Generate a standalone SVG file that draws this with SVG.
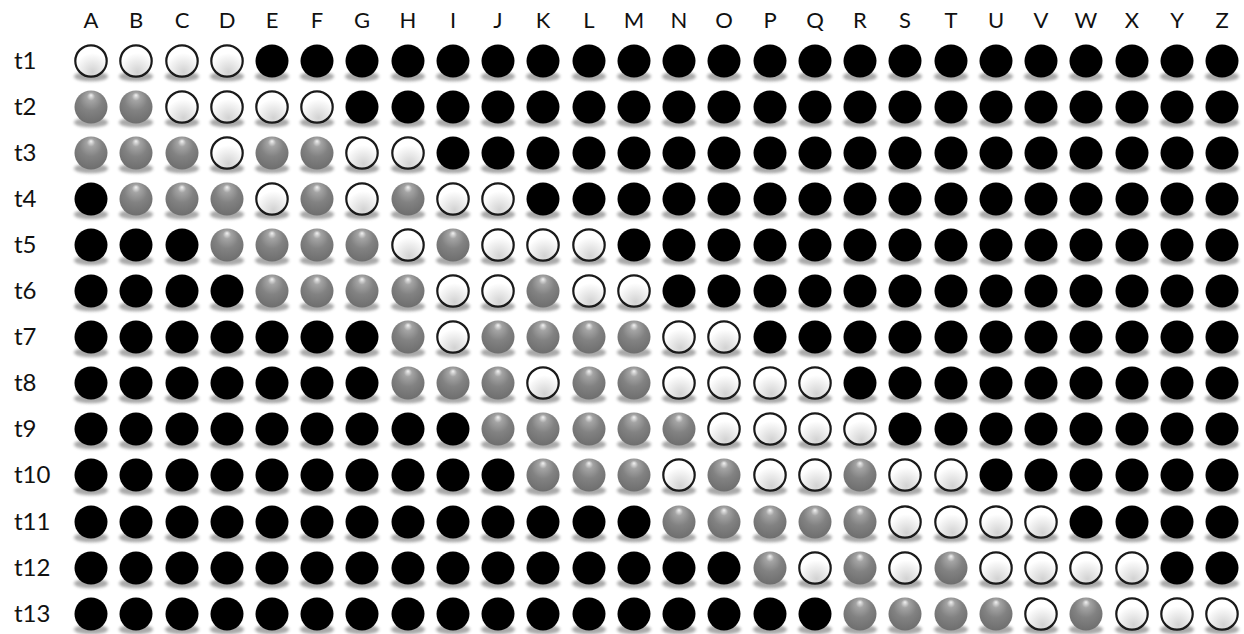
<svg xmlns="http://www.w3.org/2000/svg" xmlns:xlink="http://www.w3.org/1999/xlink" width="1244" height="634" viewBox="0 0 1244 634">
<style>
.col{font-family:Lato,"Open Sans","Liberation Sans",sans-serif;font-size:22px;fill:#111;text-anchor:middle}
.row{font-family:Lato,"Open Sans","Liberation Sans",sans-serif;font-size:24px;fill:#111}
.sh{fill:#8c8c8c;opacity:.75;filter:url(#blur)}
</style>
<defs>
<filter id="blur" x="-50%" y="-100%" width="200%" height="300%"><feGaussianBlur stdDeviation="1.5"/></filter>
<radialGradient id="gG" cx="50%" cy="38%" r="62%" fx="50%" fy="14%">
<stop offset="0" stop-color="#f2f2f2"/>
<stop offset="0.2" stop-color="#a4a4a4"/>
<stop offset="0.55" stop-color="#828282"/>
<stop offset="1" stop-color="#6e6e6e"/>
</radialGradient>
<radialGradient id="gW" cx="55%" cy="85%" r="60%">
<stop offset="0" stop-color="#d2d2d2"/>
<stop offset="1" stop-color="#ffffff"/>
</radialGradient>
<g id="B"><ellipse class="sh" cx="0" cy="15.5" rx="17" ry="4.8"/><circle r="16.5" fill="#000"/></g>
<g id="G"><ellipse class="sh" cx="0" cy="15.5" rx="17" ry="4.8"/><circle r="16.5" fill="url(#gG)"/></g>
<g id="W"><ellipse class="sh" cx="0" cy="15.5" rx="17" ry="4.8"/><circle r="15.7" fill="url(#gW)" stroke="#1a1a1a" stroke-width="2.2"/></g>
</defs>
<g id="column-labels">
<text class="col" x="91" y="28">A</text><text class="col" x="136" y="28">B</text><text class="col" x="182" y="28">C</text><text class="col" x="227" y="28">D</text><text class="col" x="272" y="28">E</text><text class="col" x="317" y="28">F</text><text class="col" x="362" y="28">G</text><text class="col" x="408" y="28">H</text><text class="col" x="453" y="28">I</text><text class="col" x="498" y="28">J</text><text class="col" x="543" y="28">K</text><text class="col" x="589" y="28">L</text><text class="col" x="634" y="28">M</text><text class="col" x="679" y="28">N</text><text class="col" x="724" y="28">O</text><text class="col" x="770" y="28">P</text><text class="col" x="815" y="28">Q</text><text class="col" x="860" y="28">R</text><text class="col" x="905" y="28">S</text><text class="col" x="951" y="28">T</text><text class="col" x="996" y="28">U</text><text class="col" x="1041" y="28">V</text><text class="col" x="1086" y="28">W</text><text class="col" x="1132" y="28">X</text><text class="col" x="1177" y="28">Y</text><text class="col" x="1222" y="28">Z</text>
</g>
<g id="row-labels">
<text class="row" x="14" y="69">t1</text><text class="row" x="14" y="115">t2</text><text class="row" x="14" y="161">t3</text><text class="row" x="14" y="207">t4</text><text class="row" x="14" y="253">t5</text><text class="row" x="14" y="299">t6</text><text class="row" x="14" y="345">t7</text><text class="row" x="14" y="391">t8</text><text class="row" x="14" y="437">t9</text><text class="row" x="14" y="483">t10</text><text class="row" x="14" y="530">t11</text><text class="row" x="14" y="576">t12</text><text class="row" x="14" y="622">t13</text>
</g>
<g id="connectors"></g>
<g id="row-t1" transform="translate(0,61)">
<g id="t1-A"><use href="#W" x="91"/></g><g id="t1-B"><use href="#W" x="136"/></g><g id="t1-C"><use href="#W" x="182"/></g><g id="t1-D"><use href="#W" x="227"/></g><g id="t1-E"><use href="#B" x="272"/></g><g id="t1-F"><use href="#B" x="317"/></g><g id="t1-G"><use href="#B" x="362"/></g><g id="t1-H"><use href="#B" x="408"/></g><g id="t1-I"><use href="#B" x="453"/></g><g id="t1-J"><use href="#B" x="498"/></g><g id="t1-K"><use href="#B" x="543"/></g><g id="t1-L"><use href="#B" x="589"/></g><g id="t1-M"><use href="#B" x="634"/></g><g id="t1-N"><use href="#B" x="679"/></g><g id="t1-O"><use href="#B" x="724"/></g><g id="t1-P"><use href="#B" x="770"/></g><g id="t1-Q"><use href="#B" x="815"/></g><g id="t1-R"><use href="#B" x="860"/></g><g id="t1-S"><use href="#B" x="905"/></g><g id="t1-T"><use href="#B" x="951"/></g><g id="t1-U"><use href="#B" x="996"/></g><g id="t1-V"><use href="#B" x="1041"/></g><g id="t1-W"><use href="#B" x="1086"/></g><g id="t1-X"><use href="#B" x="1132"/></g><g id="t1-Y"><use href="#B" x="1177"/></g><g id="t1-Z"><use href="#B" x="1222"/></g>
</g>
<g id="row-t2" transform="translate(0,107)">
<g id="t2-A"><use href="#G" x="91"/></g><g id="t2-B"><use href="#G" x="136"/></g><g id="t2-C"><use href="#W" x="182"/></g><g id="t2-D"><use href="#W" x="227"/></g><g id="t2-E"><use href="#W" x="272"/></g><g id="t2-F"><use href="#W" x="317"/></g><g id="t2-G"><use href="#B" x="362"/></g><g id="t2-H"><use href="#B" x="408"/></g><g id="t2-I"><use href="#B" x="453"/></g><g id="t2-J"><use href="#B" x="498"/></g><g id="t2-K"><use href="#B" x="543"/></g><g id="t2-L"><use href="#B" x="589"/></g><g id="t2-M"><use href="#B" x="634"/></g><g id="t2-N"><use href="#B" x="679"/></g><g id="t2-O"><use href="#B" x="724"/></g><g id="t2-P"><use href="#B" x="770"/></g><g id="t2-Q"><use href="#B" x="815"/></g><g id="t2-R"><use href="#B" x="860"/></g><g id="t2-S"><use href="#B" x="905"/></g><g id="t2-T"><use href="#B" x="951"/></g><g id="t2-U"><use href="#B" x="996"/></g><g id="t2-V"><use href="#B" x="1041"/></g><g id="t2-W"><use href="#B" x="1086"/></g><g id="t2-X"><use href="#B" x="1132"/></g><g id="t2-Y"><use href="#B" x="1177"/></g><g id="t2-Z"><use href="#B" x="1222"/></g>
</g>
<g id="row-t3" transform="translate(0,153)">
<g id="t3-A"><use href="#G" x="91"/></g><g id="t3-B"><use href="#G" x="136"/></g><g id="t3-C"><use href="#G" x="182"/></g><g id="t3-D"><use href="#W" x="227"/></g><g id="t3-E"><use href="#G" x="272"/></g><g id="t3-F"><use href="#G" x="317"/></g><g id="t3-G"><use href="#W" x="362"/></g><g id="t3-H"><use href="#W" x="408"/></g><g id="t3-I"><use href="#B" x="453"/></g><g id="t3-J"><use href="#B" x="498"/></g><g id="t3-K"><use href="#B" x="543"/></g><g id="t3-L"><use href="#B" x="589"/></g><g id="t3-M"><use href="#B" x="634"/></g><g id="t3-N"><use href="#B" x="679"/></g><g id="t3-O"><use href="#B" x="724"/></g><g id="t3-P"><use href="#B" x="770"/></g><g id="t3-Q"><use href="#B" x="815"/></g><g id="t3-R"><use href="#B" x="860"/></g><g id="t3-S"><use href="#B" x="905"/></g><g id="t3-T"><use href="#B" x="951"/></g><g id="t3-U"><use href="#B" x="996"/></g><g id="t3-V"><use href="#B" x="1041"/></g><g id="t3-W"><use href="#B" x="1086"/></g><g id="t3-X"><use href="#B" x="1132"/></g><g id="t3-Y"><use href="#B" x="1177"/></g><g id="t3-Z"><use href="#B" x="1222"/></g>
</g>
<g id="row-t4" transform="translate(0,199)">
<g id="t4-A"><use href="#B" x="91"/></g><g id="t4-B"><use href="#G" x="136"/></g><g id="t4-C"><use href="#G" x="182"/></g><g id="t4-D"><use href="#G" x="227"/></g><g id="t4-E"><use href="#W" x="272"/></g><g id="t4-F"><use href="#G" x="317"/></g><g id="t4-G"><use href="#W" x="362"/></g><g id="t4-H"><use href="#G" x="408"/></g><g id="t4-I"><use href="#W" x="453"/></g><g id="t4-J"><use href="#W" x="498"/></g><g id="t4-K"><use href="#B" x="543"/></g><g id="t4-L"><use href="#B" x="589"/></g><g id="t4-M"><use href="#B" x="634"/></g><g id="t4-N"><use href="#B" x="679"/></g><g id="t4-O"><use href="#B" x="724"/></g><g id="t4-P"><use href="#B" x="770"/></g><g id="t4-Q"><use href="#B" x="815"/></g><g id="t4-R"><use href="#B" x="860"/></g><g id="t4-S"><use href="#B" x="905"/></g><g id="t4-T"><use href="#B" x="951"/></g><g id="t4-U"><use href="#B" x="996"/></g><g id="t4-V"><use href="#B" x="1041"/></g><g id="t4-W"><use href="#B" x="1086"/></g><g id="t4-X"><use href="#B" x="1132"/></g><g id="t4-Y"><use href="#B" x="1177"/></g><g id="t4-Z"><use href="#B" x="1222"/></g>
</g>
<g id="row-t5" transform="translate(0,245)">
<g id="t5-A"><use href="#B" x="91"/></g><g id="t5-B"><use href="#B" x="136"/></g><g id="t5-C"><use href="#B" x="182"/></g><g id="t5-D"><use href="#G" x="227"/></g><g id="t5-E"><use href="#G" x="272"/></g><g id="t5-F"><use href="#G" x="317"/></g><g id="t5-G"><use href="#G" x="362"/></g><g id="t5-H"><use href="#W" x="408"/></g><g id="t5-I"><use href="#G" x="453"/></g><g id="t5-J"><use href="#W" x="498"/></g><g id="t5-K"><use href="#W" x="543"/></g><g id="t5-L"><use href="#W" x="589"/></g><g id="t5-M"><use href="#B" x="634"/></g><g id="t5-N"><use href="#B" x="679"/></g><g id="t5-O"><use href="#B" x="724"/></g><g id="t5-P"><use href="#B" x="770"/></g><g id="t5-Q"><use href="#B" x="815"/></g><g id="t5-R"><use href="#B" x="860"/></g><g id="t5-S"><use href="#B" x="905"/></g><g id="t5-T"><use href="#B" x="951"/></g><g id="t5-U"><use href="#B" x="996"/></g><g id="t5-V"><use href="#B" x="1041"/></g><g id="t5-W"><use href="#B" x="1086"/></g><g id="t5-X"><use href="#B" x="1132"/></g><g id="t5-Y"><use href="#B" x="1177"/></g><g id="t5-Z"><use href="#B" x="1222"/></g>
</g>
<g id="row-t6" transform="translate(0,291)">
<g id="t6-A"><use href="#B" x="91"/></g><g id="t6-B"><use href="#B" x="136"/></g><g id="t6-C"><use href="#B" x="182"/></g><g id="t6-D"><use href="#B" x="227"/></g><g id="t6-E"><use href="#G" x="272"/></g><g id="t6-F"><use href="#G" x="317"/></g><g id="t6-G"><use href="#G" x="362"/></g><g id="t6-H"><use href="#G" x="408"/></g><g id="t6-I"><use href="#W" x="453"/></g><g id="t6-J"><use href="#W" x="498"/></g><g id="t6-K"><use href="#G" x="543"/></g><g id="t6-L"><use href="#W" x="589"/></g><g id="t6-M"><use href="#W" x="634"/></g><g id="t6-N"><use href="#B" x="679"/></g><g id="t6-O"><use href="#B" x="724"/></g><g id="t6-P"><use href="#B" x="770"/></g><g id="t6-Q"><use href="#B" x="815"/></g><g id="t6-R"><use href="#B" x="860"/></g><g id="t6-S"><use href="#B" x="905"/></g><g id="t6-T"><use href="#B" x="951"/></g><g id="t6-U"><use href="#B" x="996"/></g><g id="t6-V"><use href="#B" x="1041"/></g><g id="t6-W"><use href="#B" x="1086"/></g><g id="t6-X"><use href="#B" x="1132"/></g><g id="t6-Y"><use href="#B" x="1177"/></g><g id="t6-Z"><use href="#B" x="1222"/></g>
</g>
<g id="row-t7" transform="translate(0,337)">
<g id="t7-A"><use href="#B" x="91"/></g><g id="t7-B"><use href="#B" x="136"/></g><g id="t7-C"><use href="#B" x="182"/></g><g id="t7-D"><use href="#B" x="227"/></g><g id="t7-E"><use href="#B" x="272"/></g><g id="t7-F"><use href="#B" x="317"/></g><g id="t7-G"><use href="#B" x="362"/></g><g id="t7-H"><use href="#G" x="408"/></g><g id="t7-I"><use href="#W" x="453"/></g><g id="t7-J"><use href="#G" x="498"/></g><g id="t7-K"><use href="#G" x="543"/></g><g id="t7-L"><use href="#G" x="589"/></g><g id="t7-M"><use href="#G" x="634"/></g><g id="t7-N"><use href="#W" x="679"/></g><g id="t7-O"><use href="#W" x="724"/></g><g id="t7-P"><use href="#B" x="770"/></g><g id="t7-Q"><use href="#B" x="815"/></g><g id="t7-R"><use href="#B" x="860"/></g><g id="t7-S"><use href="#B" x="905"/></g><g id="t7-T"><use href="#B" x="951"/></g><g id="t7-U"><use href="#B" x="996"/></g><g id="t7-V"><use href="#B" x="1041"/></g><g id="t7-W"><use href="#B" x="1086"/></g><g id="t7-X"><use href="#B" x="1132"/></g><g id="t7-Y"><use href="#B" x="1177"/></g><g id="t7-Z"><use href="#B" x="1222"/></g>
</g>
<g id="row-t8" transform="translate(0,383)">
<g id="t8-A"><use href="#B" x="91"/></g><g id="t8-B"><use href="#B" x="136"/></g><g id="t8-C"><use href="#B" x="182"/></g><g id="t8-D"><use href="#B" x="227"/></g><g id="t8-E"><use href="#B" x="272"/></g><g id="t8-F"><use href="#B" x="317"/></g><g id="t8-G"><use href="#B" x="362"/></g><g id="t8-H"><use href="#G" x="408"/></g><g id="t8-I"><use href="#G" x="453"/></g><g id="t8-J"><use href="#G" x="498"/></g><g id="t8-K"><use href="#W" x="543"/></g><g id="t8-L"><use href="#G" x="589"/></g><g id="t8-M"><use href="#G" x="634"/></g><g id="t8-N"><use href="#W" x="679"/></g><g id="t8-O"><use href="#W" x="724"/></g><g id="t8-P"><use href="#W" x="770"/></g><g id="t8-Q"><use href="#W" x="815"/></g><g id="t8-R"><use href="#B" x="860"/></g><g id="t8-S"><use href="#B" x="905"/></g><g id="t8-T"><use href="#B" x="951"/></g><g id="t8-U"><use href="#B" x="996"/></g><g id="t8-V"><use href="#B" x="1041"/></g><g id="t8-W"><use href="#B" x="1086"/></g><g id="t8-X"><use href="#B" x="1132"/></g><g id="t8-Y"><use href="#B" x="1177"/></g><g id="t8-Z"><use href="#B" x="1222"/></g>
</g>
<g id="row-t9" transform="translate(0,429)">
<g id="t9-A"><use href="#B" x="91"/></g><g id="t9-B"><use href="#B" x="136"/></g><g id="t9-C"><use href="#B" x="182"/></g><g id="t9-D"><use href="#B" x="227"/></g><g id="t9-E"><use href="#B" x="272"/></g><g id="t9-F"><use href="#B" x="317"/></g><g id="t9-G"><use href="#B" x="362"/></g><g id="t9-H"><use href="#B" x="408"/></g><g id="t9-I"><use href="#B" x="453"/></g><g id="t9-J"><use href="#G" x="498"/></g><g id="t9-K"><use href="#G" x="543"/></g><g id="t9-L"><use href="#G" x="589"/></g><g id="t9-M"><use href="#G" x="634"/></g><g id="t9-N"><use href="#G" x="679"/></g><g id="t9-O"><use href="#W" x="724"/></g><g id="t9-P"><use href="#W" x="770"/></g><g id="t9-Q"><use href="#W" x="815"/></g><g id="t9-R"><use href="#W" x="860"/></g><g id="t9-S"><use href="#B" x="905"/></g><g id="t9-T"><use href="#B" x="951"/></g><g id="t9-U"><use href="#B" x="996"/></g><g id="t9-V"><use href="#B" x="1041"/></g><g id="t9-W"><use href="#B" x="1086"/></g><g id="t9-X"><use href="#B" x="1132"/></g><g id="t9-Y"><use href="#B" x="1177"/></g><g id="t9-Z"><use href="#B" x="1222"/></g>
</g>
<g id="row-t10" transform="translate(0,475)">
<g id="t10-A"><use href="#B" x="91"/></g><g id="t10-B"><use href="#B" x="136"/></g><g id="t10-C"><use href="#B" x="182"/></g><g id="t10-D"><use href="#B" x="227"/></g><g id="t10-E"><use href="#B" x="272"/></g><g id="t10-F"><use href="#B" x="317"/></g><g id="t10-G"><use href="#B" x="362"/></g><g id="t10-H"><use href="#B" x="408"/></g><g id="t10-I"><use href="#B" x="453"/></g><g id="t10-J"><use href="#B" x="498"/></g><g id="t10-K"><use href="#G" x="543"/></g><g id="t10-L"><use href="#G" x="589"/></g><g id="t10-M"><use href="#G" x="634"/></g><g id="t10-N"><use href="#W" x="679"/></g><g id="t10-O"><use href="#G" x="724"/></g><g id="t10-P"><use href="#W" x="770"/></g><g id="t10-Q"><use href="#W" x="815"/></g><g id="t10-R"><use href="#G" x="860"/></g><g id="t10-S"><use href="#W" x="905"/></g><g id="t10-T"><use href="#W" x="951"/></g><g id="t10-U"><use href="#B" x="996"/></g><g id="t10-V"><use href="#B" x="1041"/></g><g id="t10-W"><use href="#B" x="1086"/></g><g id="t10-X"><use href="#B" x="1132"/></g><g id="t10-Y"><use href="#B" x="1177"/></g><g id="t10-Z"><use href="#B" x="1222"/></g>
</g>
<g id="row-t11" transform="translate(0,522)">
<g id="t11-A"><use href="#B" x="91"/></g><g id="t11-B"><use href="#B" x="136"/></g><g id="t11-C"><use href="#B" x="182"/></g><g id="t11-D"><use href="#B" x="227"/></g><g id="t11-E"><use href="#B" x="272"/></g><g id="t11-F"><use href="#B" x="317"/></g><g id="t11-G"><use href="#B" x="362"/></g><g id="t11-H"><use href="#B" x="408"/></g><g id="t11-I"><use href="#B" x="453"/></g><g id="t11-J"><use href="#B" x="498"/></g><g id="t11-K"><use href="#B" x="543"/></g><g id="t11-L"><use href="#B" x="589"/></g><g id="t11-M"><use href="#B" x="634"/></g><g id="t11-N"><use href="#G" x="679"/></g><g id="t11-O"><use href="#G" x="724"/></g><g id="t11-P"><use href="#G" x="770"/></g><g id="t11-Q"><use href="#G" x="815"/></g><g id="t11-R"><use href="#G" x="860"/></g><g id="t11-S"><use href="#W" x="905"/></g><g id="t11-T"><use href="#W" x="951"/></g><g id="t11-U"><use href="#W" x="996"/></g><g id="t11-V"><use href="#W" x="1041"/></g><g id="t11-W"><use href="#B" x="1086"/></g><g id="t11-X"><use href="#B" x="1132"/></g><g id="t11-Y"><use href="#B" x="1177"/></g><g id="t11-Z"><use href="#B" x="1222"/></g>
</g>
<g id="row-t12" transform="translate(0,568)">
<g id="t12-A"><use href="#B" x="91"/></g><g id="t12-B"><use href="#B" x="136"/></g><g id="t12-C"><use href="#B" x="182"/></g><g id="t12-D"><use href="#B" x="227"/></g><g id="t12-E"><use href="#B" x="272"/></g><g id="t12-F"><use href="#B" x="317"/></g><g id="t12-G"><use href="#B" x="362"/></g><g id="t12-H"><use href="#B" x="408"/></g><g id="t12-I"><use href="#B" x="453"/></g><g id="t12-J"><use href="#B" x="498"/></g><g id="t12-K"><use href="#B" x="543"/></g><g id="t12-L"><use href="#B" x="589"/></g><g id="t12-M"><use href="#B" x="634"/></g><g id="t12-N"><use href="#B" x="679"/></g><g id="t12-O"><use href="#B" x="724"/></g><g id="t12-P"><use href="#G" x="770"/></g><g id="t12-Q"><use href="#W" x="815"/></g><g id="t12-R"><use href="#G" x="860"/></g><g id="t12-S"><use href="#W" x="905"/></g><g id="t12-T"><use href="#G" x="951"/></g><g id="t12-U"><use href="#W" x="996"/></g><g id="t12-V"><use href="#W" x="1041"/></g><g id="t12-W"><use href="#W" x="1086"/></g><g id="t12-X"><use href="#W" x="1132"/></g><g id="t12-Y"><use href="#B" x="1177"/></g><g id="t12-Z"><use href="#B" x="1222"/></g>
</g>
<g id="row-t13" transform="translate(0,614)">
<g id="t13-A"><use href="#B" x="91"/></g><g id="t13-B"><use href="#B" x="136"/></g><g id="t13-C"><use href="#B" x="182"/></g><g id="t13-D"><use href="#B" x="227"/></g><g id="t13-E"><use href="#B" x="272"/></g><g id="t13-F"><use href="#B" x="317"/></g><g id="t13-G"><use href="#B" x="362"/></g><g id="t13-H"><use href="#B" x="408"/></g><g id="t13-I"><use href="#B" x="453"/></g><g id="t13-J"><use href="#B" x="498"/></g><g id="t13-K"><use href="#B" x="543"/></g><g id="t13-L"><use href="#B" x="589"/></g><g id="t13-M"><use href="#B" x="634"/></g><g id="t13-N"><use href="#B" x="679"/></g><g id="t13-O"><use href="#B" x="724"/></g><g id="t13-P"><use href="#B" x="770"/></g><g id="t13-Q"><use href="#B" x="815"/></g><g id="t13-R"><use href="#G" x="860"/></g><g id="t13-S"><use href="#G" x="905"/></g><g id="t13-T"><use href="#G" x="951"/></g><g id="t13-U"><use href="#G" x="996"/></g><g id="t13-V"><use href="#W" x="1041"/></g><g id="t13-W"><use href="#G" x="1086"/></g><g id="t13-X"><use href="#W" x="1132"/></g><g id="t13-Y"><use href="#W" x="1177"/></g><g id="t13-Z"><use href="#W" x="1222"/></g>
</g>
</svg>
